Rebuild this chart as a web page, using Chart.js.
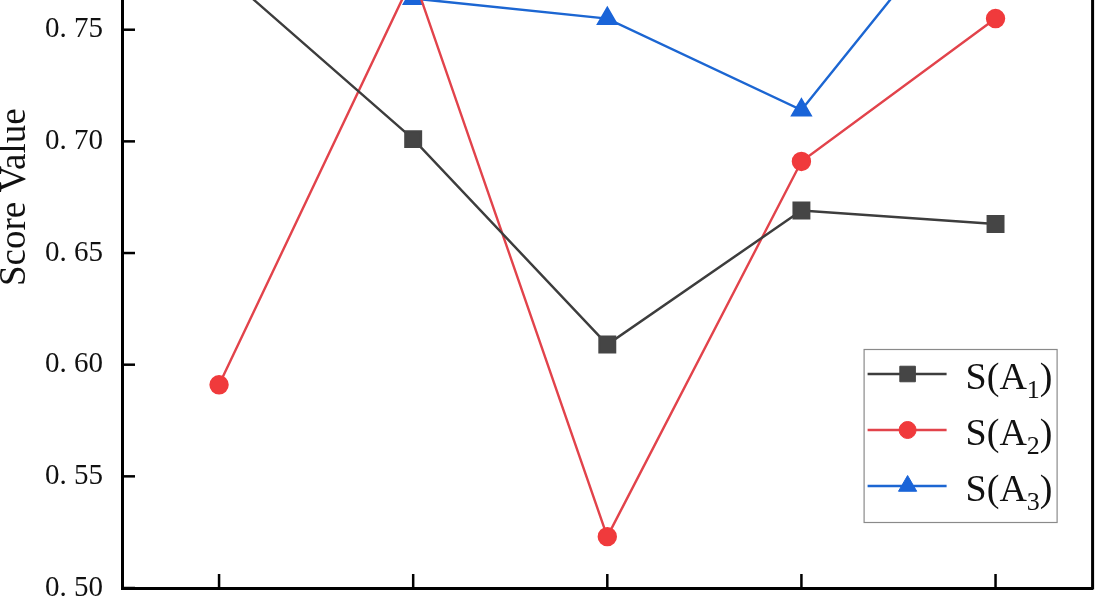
<!DOCTYPE html>
<html><head><meta charset="utf-8">
<script src="https://cdn.jsdelivr.net/npm/chart.js@4/dist/chart.umd.min.js"></script>
<style>
html,body{margin:0;padding:0;background:#fff;overflow:hidden;}
#view{position:relative;width:1095px;height:600px;overflow:hidden;background:#fff;}
#wrap{position:absolute;left:0;top:-230px;width:1106px;height:918px;}
</style></head><body>
<div id="view"><div id="wrap"><canvas id="c"></canvas></div></div>
<script>
const categories = ['1', '2', '3', '4', '5'];
const seriesLabels = ['S(A1)', 'S(A2)', 'S(A3)'];
const sA1 = [0.777, 0.701, 0.609, 0.669, 0.663];
const sA2 = [0.591, 0.774, 0.523, 0.691, 0.755];
const sA3 = [0.790, 0.764, 0.755, 0.714, 0.822];
const yTickMin = 0.50, yTickMax = 0.85, yTickStep = 0.05;

const SERIF = '"Liberation Serif", "Times New Roman", serif';

const framePlugin = {
  id: 'frame',
  afterDraw(chart) {
    const {ctx, chartArea: a, scales: {x, y}} = chart;
    ctx.save();
    ctx.strokeStyle = '#000';
    ctx.lineWidth = 3;
    ctx.beginPath();
    ctx.moveTo(a.right, a.top); ctx.lineTo(a.right, a.bottom + 1.5);
    ctx.moveTo(a.left, a.top); ctx.lineTo(a.right, a.top);
    ctx.stroke();
    ctx.lineWidth = 2.5;
    y.ticks.forEach((t, i) => {
      const py = y.getPixelForTick(i);
      ctx.beginPath(); ctx.moveTo(a.left, py); ctx.lineTo(a.left + 13, py); ctx.stroke();
    });
    x.ticks.forEach((t, i) => {
      const px = x.getPixelForTick(i);
      ctx.beginPath(); ctx.moveTo(px, a.bottom); ctx.lineTo(px, a.bottom - 14); ctx.stroke();
    });
    // legend
    const bw = 193, bh = 173;
    const bx = a.right - 36 - bw, by = a.bottom - 66 - bh;
    ctx.fillStyle = '#fff';
    ctx.fillRect(bx, by, bw, bh);
    ctx.strokeStyle = '#8a8a8a';
    ctx.lineWidth = 1.2;
    ctx.strokeRect(bx + 0.5, by + 0.5, bw, bh);
    chart.data.datasets.forEach((ds, i) => {
      const cy = by + 25 + i * 56;
      ctx.strokeStyle = ds.borderColor;
      ctx.lineWidth = ds.borderWidth;
      ctx.beginPath(); ctx.moveTo(bx + 4, cy); ctx.lineTo(bx + 83, cy); ctx.stroke();
      ctx.fillStyle = ds.pointBackgroundColor;
      ctx.strokeStyle = ds.pointBackgroundColor;
      ctx.lineWidth = 1;
      Chart.helpers.drawPoint(ctx, {pointStyle: ds.pointStyle, radius: ds.pointRadius, rotation: 0, borderWidth: 1}, bx + 44, cy);
      const m = ds.label.match(/^(.*?)(\d+)(\)?)$/);
      ctx.fillStyle = '#111';
      ctx.textBaseline = 'alphabetic';
      ctx.textAlign = 'left';
      let tx = bx + 102;
      const base = cy + 15;
      ctx.font = '38px ' + SERIF;
      ctx.fillText(m[1], tx, base); tx += ctx.measureText(m[1]).width;
      ctx.font = '26px ' + SERIF;
      ctx.fillText(m[2], tx, base + 9); tx += ctx.measureText(m[2]).width;
      ctx.font = '38px ' + SERIF;
      ctx.fillText(m[3], tx, base);
    });
    ctx.restore();
  }
};

new Chart(document.getElementById('c'), {
  type: 'line',
  data: {
    labels: categories,
    datasets: [
      {label: seriesLabels[0], data: sA1, borderColor: '#3d3d3d', backgroundColor: '#454545', pointBackgroundColor: '#454545', pointBorderColor: '#454545', pointStyle: 'rect', pointRadius: 11, borderWidth: 2.4},
      {label: seriesLabels[1], data: sA2, borderColor: '#e2434b', backgroundColor: '#f03a3c', pointBackgroundColor: '#f03a3c', pointBorderColor: '#f03a3c', pointStyle: 'circle', pointRadius: 8.5, borderWidth: 2.4},
      {label: seriesLabels[2], data: sA3, borderColor: '#1c66d2', backgroundColor: '#1a64d8', pointBackgroundColor: '#1a64d8', pointBorderColor: '#1a64d8', pointStyle: 'triangle', pointRadius: 10.5, borderWidth: 2.4}
    ]
  },
  options: {
    responsive: true,
    maintainAspectRatio: false,
    animation: false,
    layout: {padding: {top: 0, right: 3, left: 0, bottom: 0}},
    plugins: {legend: {display: false}, tooltip: {enabled: false}},
    elements: {line: {tension: 0}, point: {borderWidth: 1}},
    scales: {
      x: {
        type: 'category',
        offset: true,
        grid: {display: false, drawTicks: false},
        border: {display: true, color: '#000', width: 3},
        ticks: {padding: 30, color: '#000', font: {family: SERIF, size: 29}},
        afterFit(s) { s.height = 100; }
      },
      y: {
        min: yTickMin, max: yTickMax,
        grid: {display: false, drawTicks: false},
        border: {display: true, color: '#000', width: 3},
        ticks: {
          stepSize: yTickStep, padding: 19, color: '#111',
          font: {family: SERIF, size: 29},
          callback: v => v.toFixed(2).replace('.', '. ')
        },
        title: {display: true, text: 'Score Value', color: '#111', padding: 0,
          font: {family: SERIF, size: 37, lineHeight: 0.8}},
        afterFit(s) { s.width = 122; }
      }
    }
  },
  plugins: [framePlugin]
});
</script>
</body></html>
